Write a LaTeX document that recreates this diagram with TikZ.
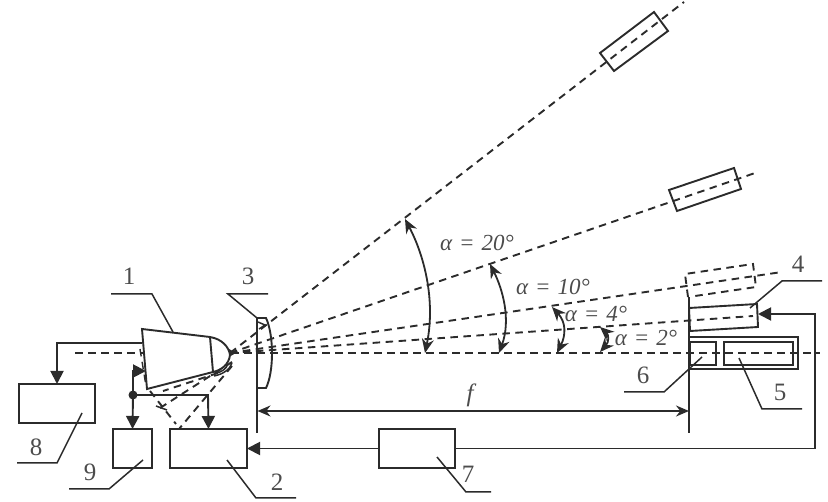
\documentclass[tikz,border=0pt]{standalone}
\usepackage{fontspec}
\setmainfont{Liberation Serif}
\usetikzlibrary{arrows.meta}
\definecolor{ink}{gray}{0.17}
\definecolor{labelink}{gray}{0.3}
\newcommand{\angsp}{\hspace{0.3em}}
\tikzset{
 x=1pt,y=-1pt,
 ln/.style={draw=ink,line width=1.9pt,line join=miter},
 thin ln/.style={draw=ink,line width=1.5pt},
 dsh/.style={draw=ink,line width=1.9pt,dash pattern=on 7.5pt off 5.5pt},
 blockbox/.style={draw=ink,line width=1.9pt,fill=white,minimum width=0pt,minimum height=0pt,inner sep=0pt,outer sep=0pt,anchor=north west},
 lbl/.style={text=labelink,font=\fontsize{25}{27}\selectfont,inner sep=0pt},
 ang/.style={text=labelink,font=\fontsize{23}{25}\selectfont\itshape,inner sep=0pt},
 head/.style={-{Triangle[length=13pt,width=13pt]}},
 bihead/.style={{Stealth[length=14pt,width=12pt]}-{Stealth[length=14pt,width=12pt]},draw=ink,line width=1.8pt},
 dim/.style={{Stealth[length=13pt,width=11pt]}-{Stealth[length=13pt,width=11pt]},draw=ink,line width=1.5pt},
}
\begin{document}
\begin{tikzpicture}
\useasboundingbox (0,0) rectangle (828,502);
% named points
\coordinate (src) at (230,353);
\coordinate (axisL) at (75,353);
\coordinate (axisR) at (820,353);
\coordinate (r20) at (684,2);
\coordinate (r10) at (758,172);
\coordinate (r4a) at (782,272);
\coordinate (r2) at (753,316);
% blocks
\node[blockbox,minimum width=76pt,minimum height=39pt] (b8) at (19,384) {};
\node[blockbox,minimum width=39pt,minimum height=39pt] (b9) at (113,429) {};
\node[blockbox,minimum width=77pt,minimum height=39pt] (b2) at (170,429) {};
% rays
\draw[dsh] (axisL) -- (axisR);
\draw[dsh] (src) -- (r20);
\draw[dsh] (src) -- (r10);
\draw[dsh] (src) -- (r4a);
\draw[dsh] (src) -- (r2);
% tilted receivers
\draw[ln] (654,12) -- (668,31) -- (614,71) -- (600,53) -- cycle;
\draw[ln] (734,168) -- (741,189) -- (677,211) -- (669,190) -- cycle;
\draw[dsh] (688,297) -- (685,274) -- (753,264) -- (756,287) -- (695,296);
\draw[ln] (689,308) -- (757,304) -- (758,327) -- (690,331) -- cycle;
% 5 and 6
\draw[ln] (689,337) -- (798,337) -- (798,369) -- (689,369);
\draw[ln] (690,342) rectangle (716,365);
\draw[ln] (724,342) rectangle (793,365);
% f reference lines
\draw[thin ln] (689,297) -- (689,433);
\draw[thin ln] (257,318) -- (257,433);
% lens
\draw[ln] (257,318) -- (266,318) .. controls (274,335) and (274,372) .. (266,388) -- (257,388);
\draw[thin ln] (258,322) -- (265,325) -- (259,329);
% lamp
\draw[ln,fill=white] (142,329) -- (210,337) .. controls (222,339) and (229,347) .. (230,355)
  .. controls (229,364) and (222,370) .. (213,372) -- (147,389) -- cycle;
\draw[ln] (210,337) -- (213,372);
\draw[dsh,line width=1.4pt] (140,349) -- (146,386);
% source tip
\fill[ink] (229,349) -- (236,353) -- (229,357) -- cycle;
% lamp lower rays
\draw[dsh] (232,366) -- (179,429);
\draw[dsh] (232,362) -- (160,408);
\draw[dsh] (218,373) -- (163,391);
\draw[dsh] (150,391) -- (176,424);
\draw[thin ln] (156,406) -- (167,410);
\draw[thin ln] (232,363) .. controls (230,369) and (224,374) .. (214,376);
\draw[thin ln] (228,364) .. controls (226,369) and (222,372) .. (216,373);
% connectors
\draw[ln,head] (142,343) -- (57,343) -- (57,384);
\coordinate (dot) at (133,395);
\fill[ink] (dot) circle (4.5pt);
\draw[ln,head] (dot) -- (133,371) -- (146,371);
\draw[ln,head] (dot) -- (b9.north);
\draw[ln,head] (dot) -- (208,395) -- (b2.north);
% 7 and feedback
\node[blockbox,minimum width=76pt,minimum height=39pt] (b7) at (379,429) {};
\coordinate (fbT) at (815,314);
\draw[ln,head] (b7.east) -| (fbT) -- (758,314);
\draw[ln,head] (b7.west) -- (b2.east);
% f dimension
\coordinate (fL) at (257.5,411);
\coordinate (fR) at (689,411);
\draw[dim] (fL) -- (fR);
\node[ang,font=\fontsize{25}{27}\selectfont\itshape] (lf) at (470,395) {f};
% angle arcs
\draw[bihead] (405,219) .. controls (424,255) and (436,300) .. (425,353);
\draw[bihead] (490,264) .. controls (503,290) and (511,320) .. (499,353);
\draw[bihead] (552,307) .. controls (566,322) and (566,335) .. (557,353);
\draw[bihead] (600,327) .. controls (609,335) and (609,342) .. (600,352);
% angle labels
\node[ang] (a20) at (477,243) {α\angsp=\angsp20°};
\node[ang] (a10) at (553,287) {α\angsp=\angsp10°};
\node[ang] (a4) at (596,314) {α\angsp=\angsp4°};
\node[ang] (a2) at (646,338) {α\angsp=\angsp2°};
% leaders and numbers
\draw[thin ln] (173,332) -- (152,294) -- (111,294);
\node[lbl] (n1) at (129,276) {1};
\draw[thin ln] (257,318) -- (228,294) -- (268,294);
\node[lbl] (n3) at (248,276) {3};
\draw[thin ln] (750,308) -- (782,281) -- (822,281);
\node[lbl] (n4) at (798,264) {4};
\draw[thin ln] (739,358) -- (762,409) -- (802,409);
\node[lbl] (n5) at (780,392) {5};
\draw[thin ln] (702,357) -- (664,392) -- (624,392);
\node[lbl] (n6) at (643,375) {6};
\draw[thin ln] (82,413) -- (57,463) -- (17,463);
\node[lbl] (n8) at (36,447) {8};
\draw[thin ln] (143,460) -- (109,489) -- (69,489);
\node[lbl] (n9) at (90,472) {9};
\draw[thin ln] (227,460) -- (256,498) -- (296,498);
\node[lbl] (n2) at (277,482) {2};
\draw[thin ln] (437,457) -- (466,492) -- (491,492);
\node[lbl] (n7) at (468,474) {7};
\end{tikzpicture}
\end{document}
